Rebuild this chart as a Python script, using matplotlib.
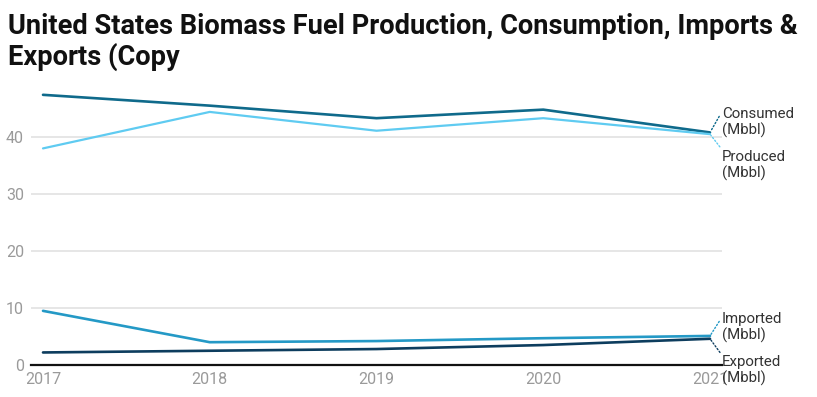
import matplotlib
matplotlib.use("Agg")
import matplotlib.pyplot as plt

plt.rcParams['font.family'] = ['Roboto', 'DejaVu Sans']

years = [2017, 2018, 2019, 2020, 2021]
consumed = [47.4, 45.5, 43.3, 44.8, 40.8]
produced = [38.0, 44.4, 41.1, 43.3, 40.5]
imported = [9.5, 4.0, 4.2, 4.7, 5.1]
exported = [2.2, 2.5, 2.8, 3.5, 4.6]

series_names = ["Consumed\n(Mbbl)", "Produced\n(Mbbl)", "Imported\n(Mbbl)", "Exported\n(Mbbl)"]
series_values = [consumed, produced, imported, exported]
colors = ["#0f6a8b", "#5fcbf1", "#2499c6", "#0d3d5e"]
widths = [1.9, 1.6, 1.9, 1.9]
label_offsets = [10, -31, 8, -32]   # pixels, label centre relative to line end
label_relpos = [(0, 0.85), (0, 1.0), (0, 0.85), (0, 1.0)]
yticks = [0, 10, 20, 30, 40]

W, H = 817, 397
fig = plt.figure(figsize=(W / 100, H / 100), dpi=100)
ax_left, ax_right, ax_top, ax_bottom = 31, 722, 83, 365
ax = fig.add_axes([ax_left / W, 1 - ax_bottom / H, (ax_right - ax_left) / W, (ax_bottom - ax_top) / H])

px_per_year = 166.75
ax.set_xlim(2017 - 12 / px_per_year, 2021 + 12 / px_per_year)
ax.set_ylim(0, (ax_bottom - ax_top) / 5.7)

for name, vals, c, lw in zip(series_names, series_values, colors, widths):
    ax.plot(years, vals, color=c, lw=lw, solid_capstyle='round', zorder=3)

for name, vals, c, off, rp in zip(series_names, series_values, colors, label_offsets, label_relpos):
    ax.annotate(name, xy=(years[-1], vals[-1]), xytext=(12, off), textcoords='offset pixels',
                fontsize=10.8, color='#333333', ha='left', va='center', linespacing=1.15,
                annotation_clip=False, zorder=5,
                arrowprops=dict(arrowstyle='-', color=c, lw=1.0, linestyle=(0, (1, 1.5)),
                                shrinkA=0, shrinkB=1, relpos=rp))

ax.set_yticks(yticks)
ax.set_xticks(years)
ax.set_xticklabels([str(y) for y in years])
ax.grid(axis='y', color='#e2e2e2', lw=1.2)
ax.set_axisbelow(True)
for s in ['top', 'right', 'left']:
    ax.spines[s].set_visible(False)
ax.spines['bottom'].set_color('#111111')
ax.spines['bottom'].set_linewidth(1.6)
ax.spines['bottom'].set_zorder(4)
ax.tick_params(axis='both', length=0, labelsize=11.5, labelcolor='#9a9a9a')
ax.tick_params(axis='y', pad=5)
ax.tick_params(axis='x', pad=5)

fig.text(8 / W, 1 - 13 / H, "United States Biomass Fuel Production, Consumption, Imports &\nExports (Copy",
         fontsize=19.6, fontweight='bold', color='#111111', ha='left', va='top', linespacing=1.14)

fig.savefig("out.png", dpi=100)
